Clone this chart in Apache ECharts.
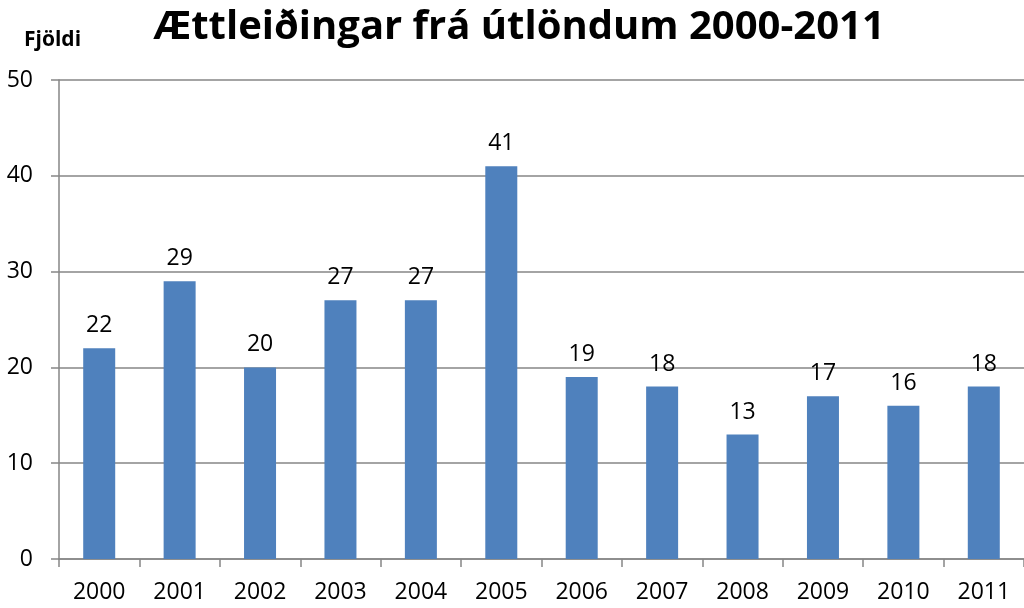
<!DOCTYPE html>
<html>
<head>
<meta charset="utf-8">
<script src="https://cdn.jsdelivr.net/npm/echarts@6/dist/echarts.min.js"></script>
<style>
  html, body { margin: 0; padding: 0; background: #fff; }
  #chart { width: 1024px; height: 608px; }
</style>
</head>
<body>
<div id="chart"></div>
<script>
// Ættleiðingar frá útlöndum, fjöldi á ári
const years = ['2000', '2001', '2002', '2003', '2004', '2005', '2006', '2007', '2008', '2009', '2010', '2011'];
const counts = [22, 29, 20, 27, 27, 41, 19, 18, 13, 17, 16, 18];

const font = '"Open Sans", "Noto Sans", sans-serif';
const gray = '#868686';

const chart = echarts.init(document.getElementById('chart'));
chart.setOption({
    animation: false,
    title: {
        text: 'Ættleiðingar frá útlöndum 2000-2011',
        left: 514,
        textAlign: 'center',
        top: 3,
        textStyle: { fontFamily: font, fontSize: 40, fontWeight: 'bold', color: '#000' }
    },
    graphic: [{
        type: 'text',
        left: 24,
        top: 30,
        style: { text: 'Fjöldi', fontFamily: font, fontSize: 21, fontWeight: 'bold', fill: '#000' }
    }],
    grid: { left: 59, right: -7, top: 80, bottom: 49 },
    xAxis: {
        type: 'category',
        data: years,
        axisLine: { show: true, lineStyle: { color: gray, width: 1.5 } },
        axisTick: { show: true, length: 8, lineStyle: { color: gray, width: 1.5 } },
        axisLabel: { fontFamily: font, fontSize: 23, color: '#000', margin: 22 }
    },
    yAxis: {
        type: 'value',
        min: 0,
        max: 50,
        interval: 10,
        axisLine: { show: true, lineStyle: { color: gray, width: 1.5 } },
        axisTick: { show: true, length: 8, lineStyle: { color: gray, width: 1.5 } },
        axisLabel: { fontFamily: font, fontSize: 23, color: '#000', margin: 26 },
        splitLine: { show: true, lineStyle: { color: gray, width: 1.5 } }
    },
    series: [{
        type: 'bar',
        data: counts,
        barWidth: 32,
        itemStyle: { color: '#4F81BD' },
        label: {
            show: true,
            position: 'top',
            distance: 11,
            fontFamily: font,
            fontSize: 23,
            color: '#000'
        }
    }]
});
window.addEventListener('resize', () => {
    chart.resize();
});
</script>
</body>
</html>
